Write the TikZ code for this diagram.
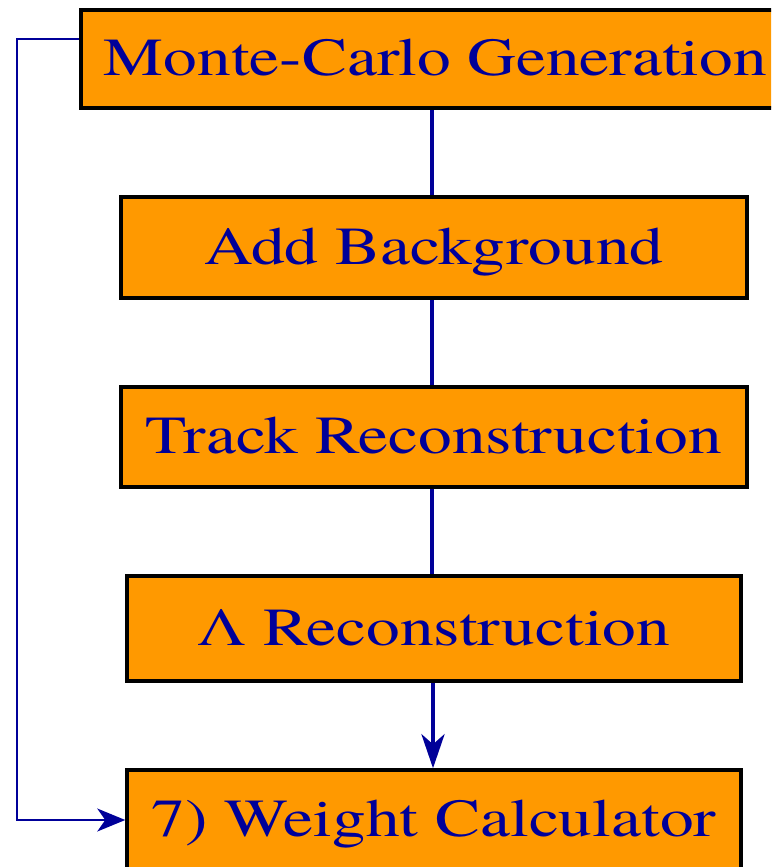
\documentclass[tikz,border=0pt]{standalone}
\usepackage{fontspec}
\setmainfont{texgyretermes-regular.otf}[FakeStretch=1.26]
\usetikzlibrary{arrows.meta}
\definecolor{boxorange}{RGB}{255,153,0}
\definecolor{textblue}{RGB}{0,0,153}
\tikzset{
  stepbox/.style={draw=black, line width=3.5pt, fill=boxorange, text=textblue,
    font=\fontsize{53.5}{64}\selectfont, inner sep=0pt, anchor=center,
    text height=41pt, text depth=8pt},
  link/.style={draw=textblue, line width=3.5pt},
}
\begin{document}
\begin{tikzpicture}[x=1pt,y=-1pt]
\useasboundingbox (0,0) rectangle (771,867);
\clip (0,0) rectangle (771,867);
\node[stepbox, minimum width=709pt, minimum height=98pt] (b1) at (435.5,59) {Monte-Carlo Generation};
\node[stepbox, minimum width=626pt, minimum height=101pt] (b2) at (434,247.5) {Add Background};
\node[stepbox, minimum width=626pt, minimum height=100pt] (b3) at (434,437) {Track Reconstruction};
\node[stepbox, minimum width=614pt, minimum height=105pt] (b4) at (434,628.5) {Λ Reconstruction};
\node[stepbox, minimum width=614pt, minimum height=100pt] (b5) at (434,820) {7) Weight Calculator};
\draw[link] (b1.south -| 432,0) -- (b2.north -| 432,0);
\draw[link] (b2.south -| 432,0) -- (b3.north -| 432,0);
\draw[link] (b3.south -| 432,0) -- (b4.north -| 432,0);
\draw[link, line width=4.5pt, -{Stealth[length=34pt,width=23pt,inset=10pt]}] (b4.south -| 433,0) -- (b5.north -| 433,0);
\draw[draw=textblue, line width=1.6pt, -{Stealth[length=28pt,width=23pt,inset=8pt]}]
  ([yshift=20pt]b1.west) -| (17,500) |- (b5.west);
\end{tikzpicture}
\end{document}
